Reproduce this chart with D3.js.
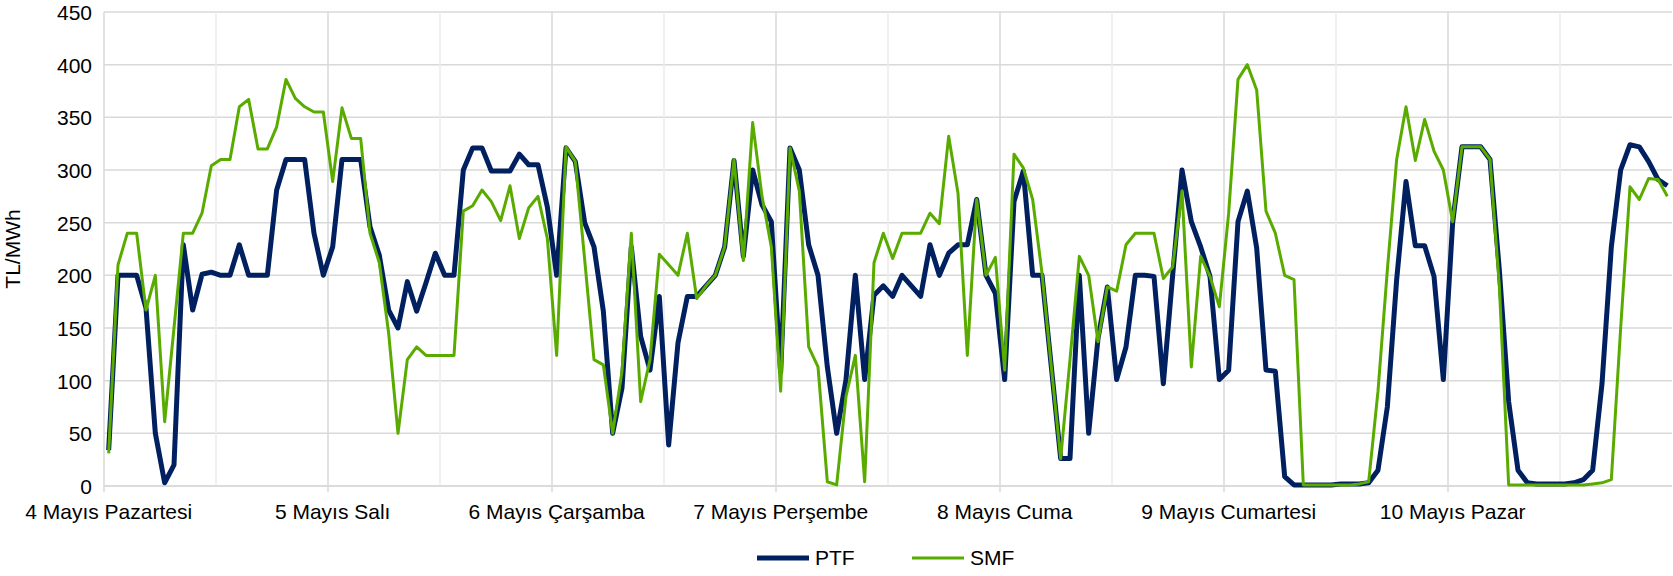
<!DOCTYPE html>
<html>
<head>
<meta charset="utf-8">
<script src="https://cdn.jsdelivr.net/npm/d3@7/dist/d3.min.js"></script>
<style>
  body { margin: 0; background: #fff; }
  text { font-family: "Liberation Sans", Arial, sans-serif; fill: #000; }
</style>
</head>
<body>
<div id="chart"></div>
<script>
  let dayLabels = ["4 Mayıs Pazartesi", "5 Mayıs Salı", "6 Mayıs Çarşamba", "7 Mayıs Perşembe", "8 Mayıs Cuma", "9 Mayıs Cumartesi", "10 Mayıs Pazar"];

  // saatlik PTF (TL/MWh), 4-10 Mayıs
  let ptf = [
    34, 200, 200, 200, 169, 50, 3, 20, 229, 167, 201, 203, 200, 200, 229, 200, 200, 200, 281, 310, 310, 310, 240, 200,
    227, 310, 310, 310, 246, 219, 167, 150, 194, 166, 193, 221, 200, 200, 300, 321, 321, 299, 299, 299, 315, 305, 305, 265,
    200, 321, 308, 250, 227, 166, 50, 93, 227, 142, 110, 180, 39, 136, 180, 180, 190, 200, 227, 309, 218, 300, 267, 251,
    108, 321, 300, 229, 200, 113, 50, 101, 200, 101, 181, 190, 180, 200, 190, 180, 229, 200, 221, 229, 229, 272, 200, 183,
    101, 270, 299, 200, 200, 113, 26, 26, 200, 50, 140, 189, 101, 132, 200, 200, 199, 97, 200, 300, 251, 227, 199, 101,
    110, 251, 280, 226, 110, 109, 9, 1, 1, 1, 1, 1, 2, 2, 2, 3, 15, 75, 196, 289, 228, 228, 199, 101,
    250, 322, 322, 322, 310, 205, 80, 15, 3, 2, 2, 2, 2, 3, 6, 15, 97, 227, 300, 324, 322, 308, 291, 285
  ];

  // saatlik SMF (TL/MWh)
  let smf = [
    31, 210, 240, 240, 167, 200, 61, 150, 240, 240, 259, 304, 310, 310, 360, 367, 320, 320, 341, 386, 368, 360, 355, 355,
    289, 359, 330, 330, 240, 212, 145, 50, 120, 132, 124, 124, 124, 124, 261, 266, 281, 270, 252, 285, 235, 264, 275, 235,
    124, 322, 308, 215, 120, 115, 50, 109, 240, 80, 120, 220, 210, 200, 240, 178, 190, 200, 227, 310, 214, 345, 275, 227,
    90, 321, 280, 132, 113, 4, 1, 85, 124, 4, 212, 240, 216, 240, 240, 240, 259, 249, 332, 278, 124, 272, 200, 217,
    110, 315, 302, 272, 202, 113, 26, 120, 218, 200, 137, 189, 185, 229, 240, 240, 240, 197, 208, 280, 113, 218, 199, 170,
    259, 386, 400, 376, 261, 240, 200, 196, 1, 1, 1, 1, 1, 1, 2, 4, 90, 205, 310, 360, 309, 348, 318, 300,
    251, 322, 322, 322, 310, 190, 1, 1, 1, 1, 1, 1, 1, 1, 1, 2, 3, 6, 150, 284, 272, 292, 291, 275
  ];

  let yTicks = [0, 50, 100, 150, 200, 250, 300, 350, 400, 450];
  let seriesNames = ["PTF", "SMF"];

  let width = 1673,
    height = 576;
  let margin = { top: 12, right: 1, bottom: 90, left: 104 };
  let colorPtf = "#002060",
    colorSmf = "#5aab00";
  let fontSize = "21px";

  let svg = d3.select("#chart").append("svg").attr("width", width).attr("height", height);

  let hours = d3.range(ptf.length);

  let x = d3
    .scaleBand()
    .domain(hours)
    .range([margin.left, width - margin.right])
    .paddingInner(0)
    .paddingOuter(0);

  let y = d3
    .scaleLinear()
    .domain([0, 450])
    .range([height - margin.bottom, margin.top]);

  // yatay kılavuz çizgileri
  svg
    .append("g")
    .selectAll("line")
    .data(yTicks)
    .enter()
    .append("line")
    .attr("x1", margin.left)
    .attr("x2", width - margin.right)
    .attr("y1", function (d) {
      return y(d);
    })
    .attr("y2", function (d) {
      return y(d);
    })
    .attr("stroke", "#d9d9d9")
    .attr("stroke-width", 1.5);

  // dikey kılavuz çizgileri (12 saatte bir)
  let vLines = d3.range(0, ptf.length, 12);
  svg
    .append("g")
    .selectAll("line")
    .data(vLines)
    .enter()
    .append("line")
    .attr("x1", function (d) {
      return x(d);
    })
    .attr("x2", function (d) {
      return x(d);
    })
    .attr("y1", margin.top)
    .attr("y2", function (d) {
      return d % 24 == 0 ? y(0) + 6 : y(0);
    })
    .attr("stroke", function (d) {
      return d % 24 == 0 ? "#d9d9d9" : "#ededed";
    })
    .attr("stroke-width", 1.5);

  // y ekseni
  let yAxis = d3.axisLeft(y).tickValues(yTicks).tickSize(0).tickPadding(12);
  let gy = svg
    .append("g")
    .attr("transform", "translate(" + margin.left + ",0)")
    .call(yAxis);
  gy.select(".domain").remove();
  gy.selectAll("text").style("font-size", fontSize).attr("dy", "0.35em");

  svg
    .append("text")
    .attr("transform", "translate(20," + (margin.top + (height - margin.bottom - margin.top) / 2) + ") rotate(-90)")
    .attr("text-anchor", "middle")
    .style("font-size", fontSize)
    .text("TL/MWh");

  // x ekseni
  let xAxis = d3
    .axisBottom(x)
    .tickValues(d3.range(0, ptf.length, 24))
    .tickSize(0)
    .tickPadding(18)
    .tickFormat(function (d) {
      return dayLabels[d / 24];
    });
  let gx = svg
    .append("g")
    .attr("transform", "translate(0," + y(0) + ")")
    .call(xAxis);
  gx.select(".domain").remove();
  gx.selectAll("text").style("font-size", fontSize);

  svg
    .append("line")
    .attr("x1", margin.left)
    .attr("x2", width - margin.right)
    .attr("y1", y(0))
    .attr("y2", y(0))
    .attr("stroke", "#d9d9d9")
    .attr("stroke-width", 1.5);

  let line = function (data) {
    return d3
      .line()
      .x(function (d, i) {
        return x(i) + x.bandwidth() / 2;
      })
      .y(function (d) {
        return y(d);
      })(data);
  };

  svg
    .append("path")
    .attr("d", line(ptf))
    .attr("fill", "none")
    .attr("stroke", colorPtf)
    .attr("stroke-width", 5)
    .attr("stroke-linejoin", "round");

  svg
    .append("path")
    .attr("d", line(smf))
    .attr("fill", "none")
    .attr("stroke", colorSmf)
    .attr("stroke-width", 3)
    .attr("stroke-linejoin", "round");

  // lejant
  let legendItems = [
    { name: seriesNames[0], color: colorPtf, w: 5, x: 757 },
    { name: seriesNames[1], color: colorSmf, w: 3, x: 912 },
  ];
  let lg = svg
    .append("g")
    .selectAll("g")
    .data(legendItems)
    .enter()
    .append("g")
    .attr("transform", function (d) {
      return "translate(" + d.x + ",558)";
    });
  lg.append("line")
    .attr("x1", 0)
    .attr("x2", 52)
    .attr("stroke", function (d) {
      return d.color;
    })
    .attr("stroke-width", function (d) {
      return d.w;
    });
  lg.append("text")
    .attr("x", 58)
    .attr("dy", "0.35em")
    .style("font-size", fontSize)
    .text(function (d) {
      return d.name;
    });
</script>
</body>
</html>
